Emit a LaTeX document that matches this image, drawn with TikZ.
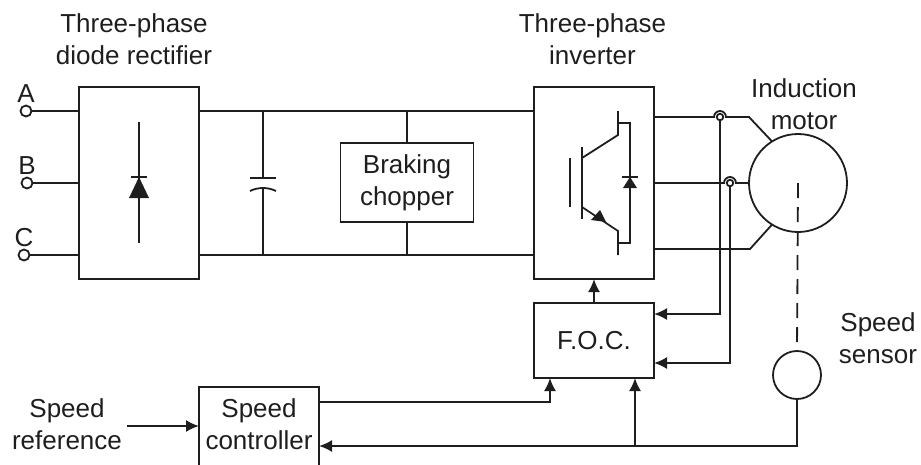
\documentclass[tikz,border=0pt]{standalone}
\usepackage{fontspec}
\setmainfont{Liberation Sans}
\usetikzlibrary{arrows.meta,positioning}
\definecolor{wireblack}{RGB}{30,30,30}
\begin{document}
\begin{tikzpicture}[x=1pt,y=-1pt,line width=1.8pt,color=wireblack,node distance=24pt,
box/.style={draw,outer sep=0pt,inner sep=0pt,align=center,font=\fontsize{26}{32}\selectfont},
lbl/.style={outer sep=0pt,inner sep=0pt,align=center,font=\fontsize{26}{32}\selectfont},
tap/.style={circle,draw,fill=white,inner sep=0pt,outer sep=0pt,minimum size=11pt},
hop/.style={circle,draw,fill=white,inner sep=0pt,outer sep=0pt,minimum size=6.5pt},
arr/.style={-{Latex[length=13pt,width=12pt]}}]
\useasboundingbox (0,0) rectangle (921,464);
\node[box,minimum width=120pt,minimum height=192pt](rect) at (139,183){};
\node[box,minimum width=120pt,minimum height=192pt](inv) at (594,183){};
\node[box,minimum width=133pt,minimum height=79pt](chop) at (407,182.5){Braking\\chopper};
\node[box,minimum width=120pt,minimum height=75pt,below=24pt of inv](foc){F.O.C.};
\node[box,minimum width=120pt,minimum height=80pt,text depth=6pt](ctrl) at (259,427){Speed\\controller};
\node[draw,circle,outer sep=0pt,inner sep=0pt,minimum size=98pt](motor) at (798,183){};
\node[draw,circle,outer sep=0pt,inner sep=0pt,minimum size=48pt](sensor) at (797,375){};
% terminals
\node[tap](ta) at (26,111){};
\node[tap](tb) at (27,183){};
\node[tap](tc) at (24,255){};
\node[lbl,above=3pt of ta](la){A};
\node[lbl,above=3pt of tb](lb){B};
\node[lbl,above=3pt of tc](lc){C};
% labels
\node[lbl](lrect) at (134,39){Three-phase\\diode rectifier};
\node[lbl](linv) at (592.5,39){Three-phase\\inverter};
\node[lbl](lmotor) at (804,104){Induction\\motor};
\node[lbl](lsensor) at (878,338){Speed\\sensor};
\node[lbl](lref) at (67,424){Speed\\reference};
% input and dc bus
\draw(ta)--(rect.west |- ta);\draw(tb)--(rect.west |- tb);\draw(tc)--(rect.west |- tc);
\draw(rect.east |- ta)--(inv.west |- ta);\draw(rect.east |- tc)--(inv.west |- tc);
\draw(chop.north)--(chop.north |- ta);\draw(chop.south)--(chop.south |- tc);
% capacitor
\coordinate(captop) at (263,178);\coordinate(capbot) at (263,188);
\draw(captop |- ta)--(captop);\draw(250,178)--(276,178);
\draw(capbot)--(capbot |- tc);\draw(250,191) .. controls (258,187) and (268,187) .. (276,191);
% rectifier diode
\draw[line width=1.4pt](139,122)--(139,243);
\draw(131,177)--(147,177);
\fill(139,177)--(149,198)--(129,198)--cycle;
% igbt
\draw(570,158)--(570,207);\draw(582,147)--(582,219);
\draw(582,158)--(618,135)--(618,111);
\draw(582,207)--(618,231)--(618,255);
\draw(618,123)--(630,123)--(630,243)--(618,243);
\draw(622,177)--(638,177);
\fill(630,177)--(637,188)--(623,188)--cycle;
\fill(606,222)--(591,220)--(600,210)--cycle;
% motor wires
\node[hop](hopa) at (720,117){};
\node[hop](hopb) at (730,183){};
\coordinate(benda) at (749,117);\coordinate(bendc) at (750,249);
\draw(inv.east |- hopa)--(714,117) arc (180:0:6pt)--(benda)--(motor.122);
\draw(inv.east |- hopb)--(724,183) arc (180:0:6pt)--(motor.west);
\draw(inv.east |- bendc)--(bendc)--(motor.238);
\draw[dash pattern=on 15pt off 9pt](motor.center)--(sensor.north);
% control
\draw[arr](foc.north)--(inv.south);
\draw[arr](hopa.south)--(hopa.south |- 0,314)--(foc.east |- 0,314);
\draw[arr](hopb.south)--(hopb.south |- 0,363)--(foc.east |- 0,363);
\coordinate(fbk) at (635,446);
\draw[arr](ctrl.east |- 0,402)--(550,402)--(foc.south -| 550,0);
\draw[arr](sensor.south)--(sensor.south |- fbk)--(ctrl.east |- fbk);
\draw[arr](fbk)--(foc.south -| fbk);
\coordinate(refin) at (127,426);
\draw[arr](refin)--(ctrl.west |- refin);
\end{tikzpicture}
\end{document}
